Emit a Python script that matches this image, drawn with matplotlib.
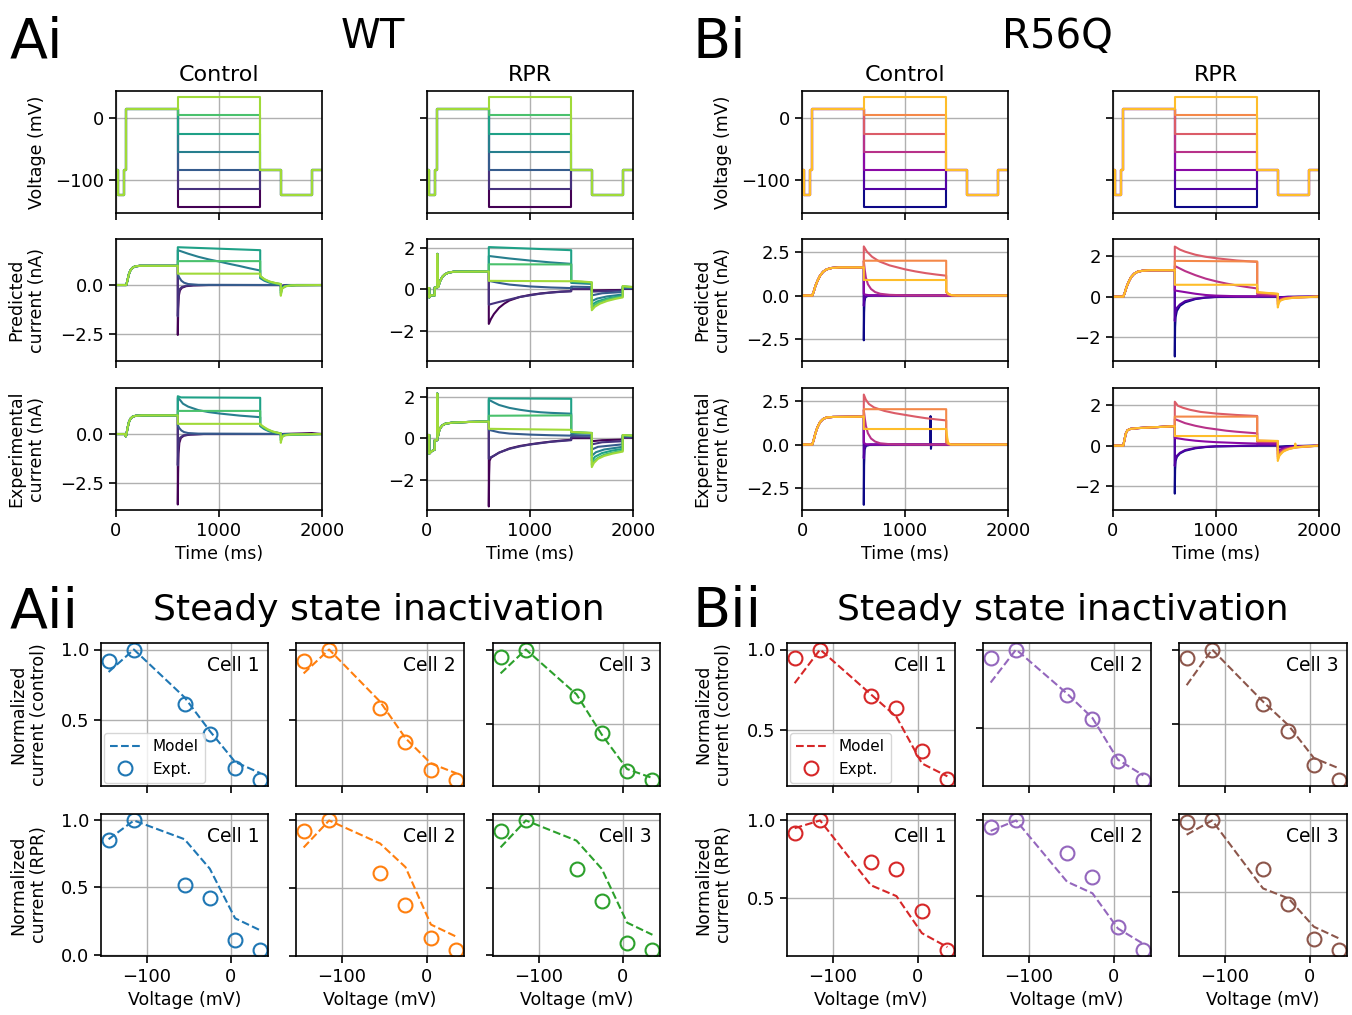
import matplotlib
matplotlib.use("Agg")
import matplotlib.pyplot as plt

W, H = 1352, 1015

# ---- voltage protocol (time ms, voltage mV) ----
volt_pre = [(0, -85), (22, -85), (22, -125), (75, -125), (75, -85), (100, -85), (100, 15), (600, 15)]
step_mv = [-145, -115, -85, -55, -25, 5, 35]
volt_post = [(1400, -85), (1600, -85), (1600, -125), (1900, -125), (1900, -85), (2000, -85)]

# ---- currents (time ms, current nA); step/post lists ordered -145 ... +35 mV ----
wt_ctrl_pred_pre = [(0, 0), (100, 0), (112, 0.25), (125, 0.55), (140, 0.75), (160, 0.88), (185, 0.95), (230, 0.98), (600, 0.98)]
wt_ctrl_pred_step = [
    [(600, -2.55), (604, -1.2), (610, -0.55), (620, -0.28), (640, -0.14), (680, -0.06), (750, -0.02), (900, 0), (1400, 0)],
    [(600, -1.6), (604, -0.8), (610, -0.4), (620, -0.2), (640, -0.1), (680, -0.04), (750, -0.01), (900, 0), (1400, 0)],
    [(600, 0.55), (615, 0.38), (635, 0.22), (660, 0.12), (700, 0.05), (800, 0.01), (1400, 0)],
    [(600, 1.78), (700, 1.6), (800, 1.44), (900, 1.31), (1000, 1.2), (1100, 1.08), (1200, 0.97), (1300, 0.85), (1400, 0.74)],
    [(600, 1.93), (1400, 1.78)],
    [(600, 1.22), (1400, 1.22)],
    [(600, 0.58), (1400, 0.58)],
]
wt_ctrl_pred_post = [
    [(1400, 0), (1600, 0), (1600, -0.05), (1650, 0), (2000, 0)],
    [(1400, 0), (1600, 0), (1600, -0.06), (1650, 0), (2000, 0)],
    [(1400, 0), (1600, 0), (1600, -0.1), (1640, -0.02), (2000, 0)],
    [(1400, 0.35), (1440, 0.22), (1490, 0.12), (1550, 0.06), (1600, 0.03), (1600, -0.3), (1615, -0.12), (1650, -0.04), (1750, 0), (2000, 0)],
    [(1400, 0.42), (1440, 0.27), (1490, 0.15), (1550, 0.08), (1600, 0.04), (1600, -0.4), (1612, -0.16), (1650, -0.05), (1750, 0), (2000, 0)],
    [(1400, 0.45), (1440, 0.29), (1490, 0.17), (1550, 0.09), (1600, 0.05), (1600, -0.48), (1612, -0.18), (1645, -0.06), (1720, -0.01), (2000, 0)],
    [(1400, 0.47), (1440, 0.3), (1490, 0.18), (1550, 0.1), (1600, 0.05), (1600, -0.55), (1612, -0.2), (1640, -0.07), (1700, -0.02), (2000, 0)],
]

wt_ctrl_exp_pre = [(0, 0), (85, 0), (95, -0.12), (100, -0.05), (112, 0.3), (125, 0.6), (140, 0.78), (160, 0.88), (190, 0.93), (250, 0.95), (600, 0.95)]
wt_ctrl_exp_step = [
    [(600, -3.6), (603, -2.0), (607, -1.0), (615, -0.45), (630, -0.2), (660, -0.08), (720, -0.03), (850, 0), (1400, 0)],
    [(600, -1.6), (604, -0.8), (610, -0.4), (620, -0.2), (650, -0.08), (720, -0.02), (850, 0), (1400, 0)],
    [(600, 0.45), (615, 0.3), (635, 0.18), (660, 0.1), (700, 0.05), (800, 0.02), (1400, 0.01)],
    [(600, 1.85), (620, 1.75), (650, 1.55), (700, 1.4), (800, 1.22), (900, 1.12), (1000, 1.05), (1200, 0.94), (1400, 0.86)],
    [(600, 1.93), (630, 1.87), (1400, 1.85)],
    [(600, 1.18), (1400, 1.18)],
    [(600, 0.52), (1400, 0.52)],
]
wt_ctrl_exp_post = [
    [(1400, 0), (1600, 0), (1800, 0.03), (1900, 0.05), (1950, 0.02), (2000, 0)],
    [(1400, 0), (1600, 0), (1600, -0.05), (1630, 0), (2000, 0)],
    [(1400, 0.01), (1600, 0), (1600, -0.08), (1630, 0), (2000, 0)],
    [(1400, 0.4), (1440, 0.25), (1490, 0.13), (1550, 0.06), (1600, 0.02), (1600, -0.2), (1620, -0.06), (2000, 0)],
    [(1400, 0.45), (1430, 0.33), (1470, 0.21), (1520, 0.11), (1600, 0.03), (1600, -0.3), (1615, -0.1), (1650, -0.03), (2000, 0)],
    [(1400, 0.48), (1430, 0.35), (1470, 0.22), (1520, 0.12), (1600, 0.03), (1600, -0.35), (1615, -0.12), (1650, -0.04), (2000, 0)],
    [(1400, 0.5), (1430, 0.38), (1470, 0.25), (1520, 0.13), (1580, 0.05), (1600, 0.03), (1600, -0.45), (1610, -0.2), (1630, -0.07), (1700, -0.02), (2000, 0)],
]

wt_rpr_pred_pre = [(0, 0.05), (22, 0.05), (22, -0.4), (28, -0.3), (75, -0.3), (75, 0.08), (100, 0.08), (100, 1.7), (103, 0.5), (108, 0.1), (115, 0.2), (130, 0.42), (150, 0.6), (175, 0.72), (210, 0.8), (260, 0.84), (600, 0.85)]
wt_rpr_pred_step = [
    [(600, -1.68), (620, -1.45), (650, -1.2), (700, -0.9), (750, -0.7), (800, -0.55), (900, -0.38), (1000, -0.28), (1100, -0.21), (1200, -0.16), (1300, -0.12), (1400, -0.1)],
    [(600, -0.75), (700, -0.62), (800, -0.5), (900, -0.38), (1000, -0.3), (1100, -0.22), (1200, -0.17), (1300, -0.13), (1400, -0.1)],
    [(600, 0.4), (700, 0.3), (800, 0.22), (1000, 0.13), (1200, 0.08), (1400, 0.05)],
    [(600, 1.6), (800, 1.48), (1000, 1.38), (1200, 1.29), (1400, 1.22)],
    [(600, 2.03), (1400, 1.88)],
    [(600, 1.2), (1400, 1.19)],
    [(600, 0.4), (1400, 0.38)],
]
wt_rpr_pred_post = [
    [(1400, 0), (1600, 0), (1600, -0.06), (1900, -0.04), (1900, 0.01), (2000, 0.01)],
    [(1400, 0.02), (1600, 0.02), (1600, -0.12), (1900, -0.07), (1900, 0.02), (2000, 0.02)],
    [(1400, 0.12), (1600, 0.1), (1600, -0.3), (1700, -0.2), (1900, -0.14), (1900, 0.06), (2000, 0.05)],
    [(1400, 0.3), (1600, 0.25), (1600, -0.58), (1650, -0.46), (1750, -0.35), (1900, -0.26), (1900, 0.1), (2000, 0.08)],
    [(1400, 0.36), (1600, 0.3), (1600, -0.75), (1650, -0.6), (1750, -0.45), (1900, -0.32), (1900, 0.12), (2000, 0.09)],
    [(1400, 0.38), (1500, 0.35), (1600, 0.32), (1600, -0.9), (1630, -0.75), (1680, -0.62), (1750, -0.5), (1830, -0.42), (1900, -0.36), (1900, 0.14), (2000, 0.1)],
    [(1400, 0.4), (1500, 0.37), (1600, 0.33), (1600, -1.02), (1630, -0.85), (1680, -0.7), (1750, -0.57), (1830, -0.47), (1900, -0.4), (1900, 0.15), (1950, 0.12), (2000, 0.1)],
]

wt_rpr_exp_pre = [(0, 0.15), (22, 0.15), (22, -0.75), (40, -0.65), (75, -0.55), (75, -0.1), (100, -0.1), (100, 2.15), (103, 0.6), (107, 0.1), (115, 0.3), (130, 0.5), (150, 0.62), (180, 0.7), (250, 0.75), (400, 0.78), (600, 0.8)]
wt_rpr_exp_step = [
    [(600, -3.3), (603, -1.8), (607, -1.1), (620, -0.95), (650, -0.85), (700, -0.7), (800, -0.5), (900, -0.38), (1000, -0.3), (1100, -0.23), (1200, -0.17), (1300, -0.12), (1400, -0.08)],
    [(600, -1.0), (620, -0.92), (650, -0.85), (700, -0.7), (800, -0.52), (900, -0.4), (1000, -0.31), (1200, -0.18), (1400, -0.1)],
    [(600, 0.4), (700, 0.28), (800, 0.22), (1000, 0.17), (1200, 0.14), (1400, 0.12)],
    [(600, 1.85), (650, 1.72), (700, 1.6), (800, 1.46), (900, 1.37), (1000, 1.3), (1100, 1.25), (1200, 1.22), (1300, 1.2), (1400, 1.18)],
    [(600, 1.92), (1400, 1.9)],
    [(600, 1.08), (1400, 1.1)],
    [(600, 0.45), (1400, 0.4)],
]
wt_rpr_exp_post = [
    [(1400, 0.0), (1600, 0.0), (1600, -0.15), (1700, -0.1), (1900, -0.07), (1900, 0.02), (2000, 0.02)],
    [(1400, 0.05), (1600, 0.04), (1600, -0.3), (1700, -0.2), (1900, -0.15), (1900, 0.04), (2000, 0.04)],
    [(1400, 0.15), (1600, 0.12), (1600, -0.55), (1660, -0.42), (1900, -0.3), (1900, 0.08), (2000, 0.07)],
    [(1400, 0.25), (1600, 0.22), (1600, -0.85), (1640, -0.68), (1720, -0.55), (1900, -0.42), (1900, 0.12), (2000, 0.1)],
    [(1400, 0.28), (1600, 0.24), (1600, -1.1), (1630, -0.9), (1700, -0.72), (1800, -0.6), (1900, -0.52), (1900, 0.14), (2000, 0.11)],
    [(1400, 0.3), (1600, 0.25), (1600, -1.3), (1620, -1.1), (1660, -0.95), (1720, -0.8), (1800, -0.7), (1900, -0.6), (1900, 0.15), (2000, 0.12)],
    [(1400, 0.3), (1500, 0.27), (1600, 0.25), (1600, -1.4), (1620, -1.2), (1660, -1.0), (1720, -0.86), (1800, -0.75), (1900, -0.65), (1900, 0.15), (2000, 0.12)],
]

r56_ctrl_pred_pre = [(0, 0), (100, 0), (115, 0.25), (130, 0.55), (150, 0.85), (175, 1.15), (205, 1.38), (240, 1.52), (290, 1.6), (360, 1.63), (600, 1.63)]
r56_ctrl_pred_step = [
    [(600, -2.6), (603, -1.0), (607, -0.35), (615, -0.1), (640, -0.02), (700, 0), (1400, 0)],
    [(600, -0.6), (605, -0.2), (615, -0.05), (650, 0), (1400, 0)],
    [(600, 0.1), (615, 0.05), (650, 0.02), (700, 0), (1400, 0)],
    [(600, 2.0), (610, 1.45), (620, 1.05), (640, 0.65), (670, 0.38), (710, 0.2), (760, 0.1), (850, 0.04), (1000, 0.01), (1400, 0)],
    [(600, 2.85), (630, 2.55), (680, 2.25), (750, 1.98), (850, 1.75), (1000, 1.52), (1100, 1.4), (1200, 1.3), (1300, 1.22), (1400, 1.15)],
    [(600, 2.02), (1400, 2.02)],
    [(600, 0.9), (1400, 0.9)],
]
r56_ctrl_pred_post = [
    [(1400, 0), (2000, 0)],
    [(1400, 0), (2000, 0)],
    [(1400, 0), (2000, 0)],
    [(1400, 0.02), (1430, 0), (2000, 0)],
    [(1400, 0.2), (1420, 0.08), (1450, 0.01), (1500, 0), (2000, 0)],
    [(1400, 0.22), (1420, 0.09), (1450, 0.02), (1500, 0), (2000, 0)],
    [(1400, 0.25), (1420, 0.1), (1450, 0.02), (1500, 0), (2000, 0)],
]

r56_ctrl_exp_pre = [(0, 0), (100, 0), (115, 0.3), (130, 0.65), (150, 1.0), (175, 1.3), (205, 1.48), (240, 1.57), (300, 1.6), (600, 1.62)]
r56_ctrl_exp_step = [
    [(600, -3.5), (603, -1.2), (608, -0.3), (620, -0.08), (660, -0.02), (750, 0), (1245, 0), (1248, 1.65), (1252, -0.25), (1256, 0), (1400, 0)],
    [(600, -0.8), (605, -0.25), (615, -0.05), (660, 0), (1400, 0)],
    [(600, 0.1), (620, 0.02), (700, 0), (1400, 0)],
    [(600, 2.0), (610, 1.5), (620, 1.1), (640, 0.65), (670, 0.35), (710, 0.17), (760, 0.07), (850, 0.02), (1000, 0), (1400, 0)],
    [(600, 2.9), (620, 2.6), (650, 2.35), (700, 2.15), (800, 1.95), (900, 1.82), (1000, 1.72), (1100, 1.62), (1200, 1.53), (1300, 1.46), (1400, 1.4)],
    [(600, 2.05), (1400, 2.05)],
    [(600, 0.9), (1400, 0.9)],
]
r56_ctrl_exp_post = [
    [(1400, 0), (2000, 0)],
    [(1400, 0), (2000, 0)],
    [(1400, 0), (2000, 0)],
    [(1400, 0), (2000, 0)],
    [(1400, 0.1), (1420, 0.02), (1450, 0), (2000, 0)],
    [(1400, 0.15), (1420, 0.03), (1450, 0), (2000, 0)],
    [(1400, 0.9), (1410, 0.4), (1420, 0.1), (1440, 0), (2000, 0)],
]

r56_rpr_pred_pre = [(0, 0), (100, 0), (115, 0.2), (130, 0.45), (150, 0.7), (175, 0.95), (205, 1.12), (240, 1.22), (290, 1.27), (360, 1.29), (600, 1.29)]
r56_rpr_pred_step = [
    [(600, -2.93), (603, -1.5), (608, -1.0), (620, -0.7), (650, -0.45), (700, -0.28), (800, -0.12), (900, -0.05), (1000, -0.02), (1200, 0), (1400, 0)],
    [(600, -1.2), (605, -0.8), (620, -0.55), (650, -0.38), (700, -0.22), (800, -0.1), (900, -0.04), (1000, -0.01), (1400, 0)],
    [(600, 0.3), (700, 0.22), (800, 0.14), (900, 0.08), (1000, 0.05), (1200, 0.02), (1400, 0.01)],
    [(600, 1.5), (700, 1.25), (800, 1.05), (900, 0.88), (1000, 0.75), (1100, 0.64), (1200, 0.55), (1300, 0.47), (1400, 0.4)],
    [(600, 2.45), (650, 2.3), (700, 2.2), (800, 2.05), (900, 1.95), (1000, 1.88), (1200, 1.77), (1400, 1.7)],
    [(600, 1.75), (1400, 1.72)],
    [(600, 0.58), (1400, 0.58)],
]
r56_rpr_pred_post = [
    [(1400, 0), (1600, 0), (1600, -0.03), (1700, -0.01), (2000, 0)],
    [(1400, 0), (1600, 0), (1600, -0.04), (1700, -0.01), (2000, 0)],
    [(1400, 0.04), (1600, 0.03), (1600, -0.1), (1650, -0.05), (1800, -0.01), (2000, 0)],
    [(1400, 0.12), (1600, 0.08), (1600, -0.22), (1630, -0.12), (1700, -0.05), (2000, 0)],
    [(1400, 0.19), (1600, 0.12), (1600, -0.35), (1620, -0.18), (1660, -0.09), (1750, -0.04), (2000, 0)],
    [(1400, 0.2), (1500, 0.17), (1600, 0.13), (1600, -0.42), (1615, -0.22), (1650, -0.12), (1750, -0.05), (2000, 0)],
    [(1400, 0.22), (1500, 0.18), (1600, 0.14), (1600, -0.53), (1610, -0.3), (1630, -0.18), (1680, -0.1), (1750, -0.06), (1850, -0.03), (2000, 0)],
]

r56_rpr_exp_pre = [(0, 0), (100, 0), (112, 0.3), (125, 0.6), (140, 0.75), (170, 0.82), (250, 0.86), (400, 0.9), (600, 0.95)]
r56_rpr_exp_step = [
    [(600, -2.35), (603, -1.2), (608, -0.75), (620, -0.55), (650, -0.38), (700, -0.25), (800, -0.13), (900, -0.07), (1000, -0.04), (1200, -0.02), (1400, 0)],
    [(600, -1.0), (605, -0.7), (620, -0.5), (650, -0.35), (700, -0.22), (800, -0.11), (900, -0.06), (1000, -0.03), (1400, 0)],
    [(600, 0.38), (700, 0.3), (800, 0.24), (900, 0.2), (1000, 0.17), (1200, 0.13), (1400, 0.1)],
    [(600, 1.3), (700, 1.1), (800, 0.97), (900, 0.87), (1000, 0.8), (1100, 0.73), (1200, 0.68), (1300, 0.64), (1400, 0.6)],
    [(600, 2.15), (630, 1.95), (680, 1.85), (750, 1.75), (850, 1.65), (1000, 1.57), (1200, 1.5), (1400, 1.45)],
    [(600, 1.42), (1400, 1.42)],
    [(600, 0.47), (1400, 0.47)],
]
r56_rpr_exp_post = [
    [(1400, 0), (1600, 0), (1600, -0.05), (1700, -0.02), (2000, 0)],
    [(1400, 0.02), (1600, 0.02), (1600, -0.1), (1700, -0.04), (2000, 0)],
    [(1400, 0.1), (1600, 0.08), (1600, -0.25), (1650, -0.14), (1750, -0.06), (2000, 0)],
    [(1400, 0.18), (1600, 0.16), (1600, -0.42), (1630, -0.26), (1680, -0.14), (1780, -0.06), (2000, 0)],
    [(1400, 0.22), (1600, 0.2), (1600, -0.55), (1625, -0.35), (1670, -0.2), (1750, -0.1), (2000, 0)],
    [(1400, 0.25), (1600, 0.22), (1600, -0.65), (1620, -0.42), (1660, -0.25), (1720, -0.14), (1800, -0.07), (2000, 0)],
    [(1400, 0.25), (1600, 0.23), (1600, -0.75), (1615, -0.5), (1650, -0.3), (1700, -0.18), (1765, -0.1), (1770, 0.1), (1775, -0.08), (1880, -0.04), (2000, 0)],
]

# ---- steady state inactivation (voltage mV, normalized current) ----
ssi_mv = [-145, -115, -55, -25, 5, 35]
wt_ctrl_expt = [[0.92, 1.0, 0.61, 0.40, 0.155, 0.075], [0.917, 1.0, 0.583, 0.34, 0.143, 0.076], [0.95, 1.0, 0.69, 0.44, 0.19, 0.13]]
wt_ctrl_model = [[0.84, 1.0, 0.66, 0.42, 0.2, 0.12], [0.83, 1.0, 0.63, 0.37, 0.19, 0.12], [0.84, 1.0, 0.70, 0.43, 0.2, 0.14]]
wt_rpr_expt = [[0.857, 1.0, 0.52, 0.42, 0.11, 0.037], [0.924, 1.0, 0.61, 0.375, 0.13, 0.045], [0.92, 1.0, 0.64, 0.40, 0.085, 0.04]]
wt_rpr_model = [[0.86, 1.0, 0.86, 0.64, 0.27, 0.18], [0.80, 1.0, 0.83, 0.655, 0.23, 0.14], [0.80, 1.0, 0.85, 0.64, 0.24, 0.15]]
r56_ctrl_expt = [[0.944, 1.0, 0.708, 0.635, 0.37, 0.19], [0.947, 1.0, 0.713, 0.557, 0.291, 0.174], [0.944, 1.0, 0.635, 0.455, 0.223, 0.126]]
r56_ctrl_model = [[0.79, 1.0, 0.72, 0.58, 0.29, 0.21], [0.79, 1.0, 0.72, 0.565, 0.30, 0.2], [0.76, 1.0, 0.65, 0.49, 0.27, 0.2]]
r56_rpr_expt = [[0.918, 1.0, 0.734, 0.686, 0.413, 0.164], [0.956, 1.0, 0.787, 0.627, 0.293, 0.142], [0.986, 1.0, 0.657, 0.413, 0.171, 0.094]]
r56_rpr_model = [[0.95, 1.0, 0.58, 0.51, 0.27, 0.18], [0.93, 1.0, 0.593, 0.516, 0.282, 0.18], [0.9, 1.0, 0.523, 0.453, 0.254, 0.171]]
wt_cell_colors = ["tab:blue", "tab:orange", "tab:green"]
r56_cell_colors = ["tab:red", "tab:purple", "tab:brown"]

plt.rcParams["axes.linewidth"] = 1.2
plt.rcParams["xtick.major.width"] = 1.2
plt.rcParams["ytick.major.width"] = 1.2
plt.rcParams["xtick.major.size"] = 5
plt.rcParams["ytick.major.size"] = 5
plt.rcParams["xtick.labelsize"] = 13
plt.rcParams["ytick.labelsize"] = 13
plt.rcParams["axes.labelsize"] = 12.5
plt.rcParams["grid.linewidth"] = 1.0
plt.rcParams["grid.color"] = "#b0b0b0"

fig = plt.figure(figsize=(W / 100, H / 100), dpi=100)


def place(l, t, r, b):
    return fig.add_axes([l / W, 1 - b / H, (r - l) / W, (b - t) / H])


def xy(points):
    return [p[0] for p in points], [p[1] for p in points]


top_cols = [
    dict(x=(116, 322), cmap="viridis", pred=(wt_ctrl_pred_pre, wt_ctrl_pred_step, wt_ctrl_pred_post),
         exp=(wt_ctrl_exp_pre, wt_ctrl_exp_step, wt_ctrl_exp_post), ylim=(-3.88, 2.35), yticks=[-2.5, 0.0], first=True),
    dict(x=(427, 633), cmap="viridis", pred=(wt_rpr_pred_pre, wt_rpr_pred_step, wt_rpr_pred_post),
         exp=(wt_rpr_exp_pre, wt_rpr_exp_step, wt_rpr_exp_post), ylim=(-3.47, 2.42), yticks=[-2, 0, 2], first=False),
    dict(x=(802, 1008), cmap="plasma", pred=(r56_ctrl_pred_pre, r56_ctrl_pred_step, r56_ctrl_pred_post),
         exp=(r56_ctrl_exp_pre, r56_ctrl_exp_step, r56_ctrl_exp_post), ylim=(-3.8, 3.28), yticks=[-2.5, 0.0, 2.5], first=True),
    dict(x=(1113, 1319), cmap="plasma", pred=(r56_rpr_pred_pre, r56_rpr_pred_step, r56_rpr_pred_post),
         exp=(r56_rpr_exp_pre, r56_rpr_exp_step, r56_rpr_exp_post), ylim=(-3.15, 2.82), yticks=[-2, 0, 2], first=False),
]
top_rows = [(91, 213), (239, 361), (388, 510)]
n = len(step_mv)

for col in top_cols:
    cmap = plt.get_cmap(col["cmap"])
    l, r = col["x"]
    axv = place(l, top_rows[0][0], r, top_rows[0][1])
    for i, v in enumerate(step_mv):
        t, y = xy(volt_pre + [(600, v), (1400, v)] + volt_post)
        axv.plot(t, y, color=cmap(i / n), lw=1.5)
    axv.set_ylim(-154, 44)
    axv.set_yticks([-100, 0])
    if col["first"]:
        axv.set_ylabel("Voltage (mV)")
    else:
        axv.set_yticklabels([])

    axes = [axv]
    for k, key in enumerate(["pred", "exp"]):
        ax = place(l, top_rows[k + 1][0], r, top_rows[k + 1][1])
        pre, steps, posts = col[key]
        for i in range(n):
            t, y = xy(pre + steps[i] + posts[i])
            ax.plot(t, y, color=cmap(i / n), lw=1.5)
        ax.set_ylim(*col["ylim"])
        ax.set_yticks(col["yticks"])
        if col["first"]:
            ax.set_ylabel("Predicted\ncurrent (nA)" if key == "pred" else "Experimental\ncurrent (nA)")
        axes.append(ax)

    for j, ax in enumerate(axes):
        ax.set_xlim(0, 2000)
        ax.set_xticks([0, 1000, 2000])
        ax.grid(True)
        if j < 2:
            ax.set_xticklabels([])
        ax.yaxis.set_label_coords(-0.34, 0.5)
    axes[2].set_xlabel("Time (ms)")

# column and block titles
for cx, label in [(219, "Control"), (530, "RPR"), (905, "Control"), (1216, "RPR")]:
    fig.text(cx / W, 1 - 81 / H, label, ha="center", va="baseline", fontsize=16)
fig.text(373 / W, 1 - 48 / H, "WT", ha="center", va="baseline", fontsize=29)
fig.text(1057 / W, 1 - 48 / H, "R56Q", ha="center", va="baseline", fontsize=29)
fig.text(10 / W, 1 - 58 / H, "Ai", ha="left", va="baseline", fontsize=40)
fig.text(693 / W, 1 - 58 / H, "Bi", ha="left", va="baseline", fontsize=40)
fig.text(10 / W, 1 - 627 / H, "Aii", ha="left", va="baseline", fontsize=40)
fig.text(693 / W, 1 - 627 / H, "Bii", ha="left", va="baseline", fontsize=40)
fig.text(379 / W, 1 - 620 / H, "Steady state inactivation", ha="center", va="baseline", fontsize=26)
fig.text(1063 / W, 1 - 620 / H, "Steady state inactivation", ha="center", va="baseline", fontsize=26)

# steady state inactivation panels
ssi_blocks = [
    dict(xs=[(101, 268), (296, 464), (493, 660)], colors=wt_cell_colors,
         rows=[(wt_ctrl_model, wt_ctrl_expt, "control", [0.5, 1.0]), (wt_rpr_model, wt_rpr_expt, "RPR", [0.0, 0.5, 1.0])]),
    dict(xs=[(787, 955), (983, 1151), (1179, 1347)], colors=r56_cell_colors,
         rows=[(r56_ctrl_model, r56_ctrl_expt, "control", [0.5, 1.0]), (r56_rpr_model, r56_rpr_expt, "RPR", [0.5, 1.0])]),
]
ssi_rows = [(643, 786), (814, 956)]

for block in ssi_blocks:
    for ri, (model, expt, cond, yt) in enumerate(block["rows"]):
        for ci, (l, r) in enumerate(block["xs"]):
            ax = place(l, ssi_rows[ri][0], r, ssi_rows[ri][1])
            c = block["colors"][ci]
            ax.plot(ssi_mv, model[ci], "--", color=c, lw=1.5, label="Model")
            ax.plot(ssi_mv, expt[ci], "o", mfc="none", mec=c, mew=1.5, ms=10, label="Expt.")
            ax.grid(True)
            ax.set_xticks([-100, 0])
            ax.set_yticks(yt)
            ax.text(0.95, 0.91, f"Cell {ci + 1}", transform=ax.transAxes, ha="right", va="top", fontsize=13.5)
            if ri == 0:
                ax.set_xticklabels([])
            else:
                ax.set_xlabel("Voltage (mV)")
            if ci == 0:
                ax.set_ylabel(f"Normalized\ncurrent ({cond})")
                ax.yaxis.set_label_coords(-0.32, 0.5)
                if ri == 0:
                    ax.legend(loc="lower left", fontsize=11, borderaxespad=0.2, handlelength=2.0)
            else:
                ax.set_yticklabels([])

fig.savefig("out.png", dpi=100)
